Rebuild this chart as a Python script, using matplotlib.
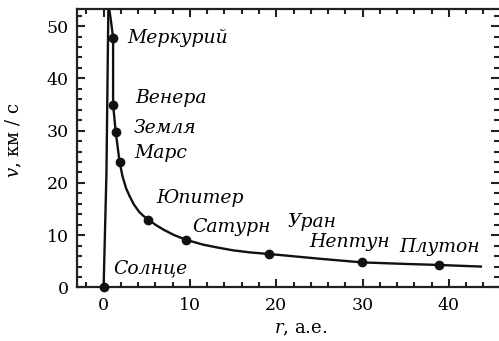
import matplotlib
matplotlib.use("Agg")
import matplotlib.pyplot as plt
import matplotlib.transforms as mtransforms
from matplotlib.ticker import MultipleLocator

plt.rcParams['font.family'] = ['DejaVu Serif']
plt.rcParams['mathtext.fontset'] = 'dejavuserif'

# данные
planets = ['Солнце', 'Меркурий', 'Венера', 'Земля', 'Марс',
           'Юпитер', 'Сатурн', 'Уран', 'Нептун', 'Плутон']
r_au = [0.0, 1.1, 1.1, 1.4, 1.85, 5.2, 9.6, 19.2, 29.9, 38.9]
v_kms = [0.0, 47.8, 35.0, 29.8, 24.0, 13.0, 9.1, 6.4, 4.8, 4.3]

# линия внутри Солнца
sun_r = [0.0, 0.33, 0.55]
sun_v = [0.0, 22.0, 53.3]

# кривая через планеты
curve_r = [0.65, 0.85, 1.1, 1.1, 1.4, 1.85, 2.2, 2.6, 3.0, 3.5, 4.1, 4.6, 5.2,
           6.0, 7.0, 8.2, 9.6, 11.5, 13.0, 15.0, 17.0, 19.2, 25.0, 29.9, 35.0,
           38.9, 43.7]
curve_v = [53.3, 51.0, 47.8, 35.0, 29.8, 24.0, 21.2, 19.0, 17.5, 15.9, 14.5, 13.7, 13.0,
           12.0, 11.0, 10.0, 9.1, 8.2, 7.7, 7.1, 6.7, 6.4, 5.5, 4.8, 4.5,
           4.3, 4.0]

# где стоят подписи (в данных)
label_pos = {
    'Солнце': (1.1, 3.6),
    'Меркурий': (2.8, 47.8),
    'Венера': (3.7, 36.2),
    'Земля': (3.5, 30.6),
    'Марс': (3.5, 25.8),
    'Юпитер': (6.1, 17.2),
    'Сатурн': (10.3, 11.6),
    'Уран': (21.3, 12.6),
    'Нептун': (23.8, 8.7),
    'Плутон': (34.2, 7.8),
}

fig = plt.figure(figsize=(4.99, 3.41), dpi=100)
ax = fig.add_axes([0.154, 0.157, 0.846, 0.817])

ax.plot(sun_r, sun_v, color='#111111', lw=1.7)
ax.plot(curve_r, curve_v, color='#111111', lw=1.7, solid_joinstyle='round')
ax.plot(r_au, v_kms, 'o', color='#111111', ms=6, clip_on=False, zorder=5)

for name in planets:
    x, y = label_pos[name]
    ax.text(x, y, name, fontsize=13.5, style='italic', ha='left', va='center')

ax.set_xlim(-3.1, 45.8)
ax.set_ylim(0, 53.3)

ax.xaxis.set_major_locator(MultipleLocator(10))
ax.xaxis.set_minor_locator(MultipleLocator(2))
ax.yaxis.set_major_locator(MultipleLocator(10))
ax.yaxis.set_minor_locator(MultipleLocator(2))
ax.tick_params(which='both', direction='in', top=True, right=True, width=1.5,
               labelsize=12.5, color='#222222')
ax.tick_params(which='major', length=6)
ax.tick_params(which='minor', length=3.5)
ax.tick_params(axis='x', pad=7)
ax.tick_params(axis='y', pad=6)

for s in ['left', 'bottom', 'top']:
    ax.spines[s].set_linewidth(1.6)
    ax.spines[s].set_color('#222222')
ax.spines['right'].set_visible(False)

fig.canvas.draw()
# ноль на оси v чуть ниже
lab0 = ax.get_yticklabels()[0]
lab0.set_transform(lab0.get_transform() + mtransforms.ScaledTranslation(0, -6 / 72, fig.dpi_scale_trans))

ax.set_xlabel('$r$, а.е.', fontsize=13)
ax.set_ylabel('$v$, км / с', fontsize=13)
ax.xaxis.set_label_coords(0.53, -0.115)
ax.yaxis.set_label_coords(-0.125, 0.53)

fig.savefig('out.png', dpi=100)
